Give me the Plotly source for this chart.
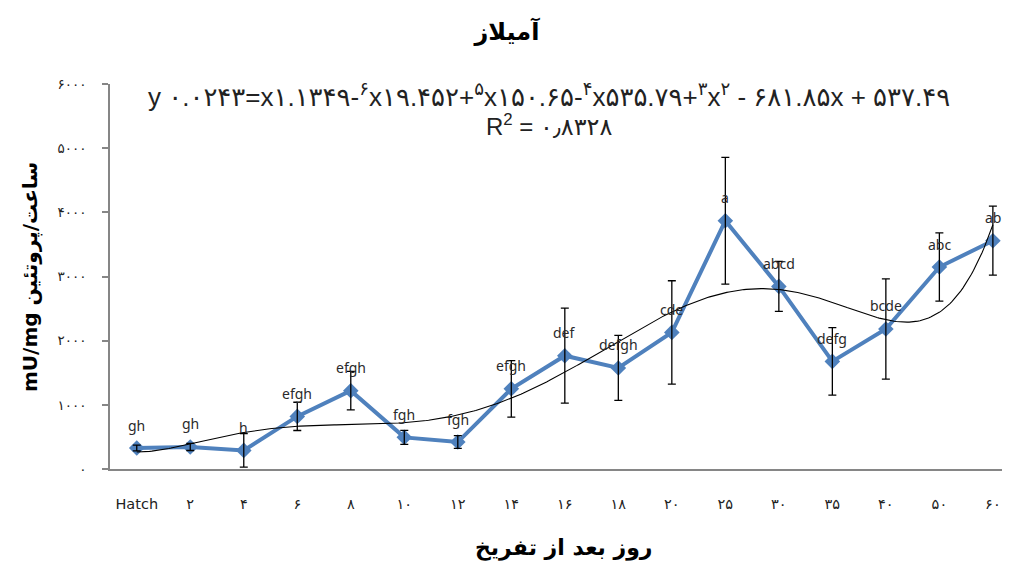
import numpy as np
import plotly.graph_objects as go

# ---- data ----
days = ["Hatch", "۲", "۴", "۶", "۸", "۱۰", "۱۲", "۱۴", "۱۶", "۱۸", "۲۰", "۲۵", "۳۰", "۳۵", "۴۰", "۵۰", "۶۰"]
amylase = [327, 343, 290, 820, 1220, 493, 420, 1250, 1766, 1575, 2129, 3869, 2846, 1677, 2182, 3148, 3558]
err = [45, 55, 260, 220, 300, 110, 100, 440, 740, 507, 805, 988, 390, 525, 780, 533, 538]
letters = ["gh", "gh", "h", "efgh", "efgh", "fgh", "fgh", "efgh", "def", "defgh", "cde", "a", "abcd", "defg", "bcde", "abc", "ab"]
y_tick_vals = [0, 1000, 2000, 3000, 4000, 5000, 6000]
y_tick_text = ["۰", "۱۰۰۰", "۲۰۰۰", "۳۰۰۰", "۴۰۰۰", "۵۰۰۰", "۶۰۰۰"]

title_text = "آمیلاز"
x_title = "روز بعد از تفریخ"
y_title = "mU/mg ساعت/پروتئین"
eq_text = ("y ۰.۰۲۴۳=x۱.۱۳۴۹-<sup>۶</sup>x۱۹.۴۵۲+<sup>۵</sup>x۱۵۰.۶۵-<sup>۴</sup>"
           "x۵۳۵.۷۹+<sup>۳</sup>x<sup>۲</sup> - ۶۸۱.۸۵x + ۵۳۷.۴۹")
r2_text = "R<sup>2</sup> = ۰٫۸۳۲۸"

# ---- positions ----
xpos = np.arange(len(days))

# 6th-order polynomial trendline fitted to the series (Excel x = 1..n)
coef = np.polyfit(xpos + 1, amylase, 6)
xs = np.linspace(0, len(days) - 1, 400)
ys = np.polyval(coef, xs + 1)

BLUE = "#4F81BD"
AXIS = "#868686"

# page body has an 8px margin: figure sized/offset to compensate
W, H = 1002, 556
L, T, B = 102, 76, 95
PH = H - T - B  # 385


def px_to_paper_y(sy):
    fy = sy - 8
    return (H - B - fy) / PH


def px_to_paper_x(sx):
    fx = sx - 8
    return (fx - L) / (W - L)


fig = go.Figure()
fig.add_trace(go.Scatter(
    x=xpos, y=amylase, mode="lines+markers",
    line=dict(color=BLUE, width=4),
    marker=dict(symbol="diamond", size=12, color=BLUE),
    showlegend=False, hoverinfo="skip"))
fig.add_trace(go.Scatter(
    x=xs, y=ys, mode="lines",
    line=dict(color="black", width=1.1),
    showlegend=False, hoverinfo="skip"))
fig.add_trace(go.Scatter(
    x=xpos, y=amylase, mode="markers",
    marker=dict(size=1, color="rgba(0,0,0,0)"),
    error_y=dict(type="data", array=err, visible=True, color="black", thickness=1.3, width=4),
    showlegend=False, hoverinfo="skip"))

for xi, yi, lab in zip(xpos, amylase, letters):
    fig.add_annotation(x=xi, y=yi, text=lab, showarrow=False, yshift=23,
                       xanchor="center", yanchor="middle",
                       font=dict(family="Noto Sans", size=14, color="#2a2a2a"))

fig.add_annotation(xref="paper", yref="paper", x=px_to_paper_x(549), y=px_to_paper_y(95),
                   xanchor="center", yanchor="middle", text=eq_text, showarrow=False,
                   font=dict(family="Liberation Sans, DejaVu Sans", size=26, color="#222222"))
fig.add_annotation(xref="paper", yref="paper", x=px_to_paper_x(549), y=px_to_paper_y(125),
                   xanchor="center", yanchor="middle", text=r2_text, showarrow=False,
                   font=dict(family="Liberation Sans, DejaVu Sans", size=24, color="#222222"))
fig.add_annotation(xref="paper", yref="paper", x=px_to_paper_x(30), y=px_to_paper_y(277),
                   xanchor="center", yanchor="middle", text=y_title, showarrow=False,
                   textangle=-90,
                   font=dict(family="DejaVu Sans", size=20, color="black", weight="bold"))
fig.add_annotation(xref="paper", yref="paper", x=px_to_paper_x(563), y=px_to_paper_y(548),
                   xanchor="center", yanchor="middle", text=x_title, showarrow=False,
                   font=dict(family="DejaVu Sans", size=22, color="black", weight="bold"))

fig.update_layout(
    width=W, height=H, autosize=False,
    margin=dict(l=L, r=0, t=T, b=B),
    paper_bgcolor="white", plot_bgcolor="white",
    title=dict(text=title_text, x=(507 - 8) / W, xanchor="center", xref="container",
               y=1 - (32 - 8) / H, yanchor="middle", yref="container",
               font=dict(family="DejaVu Sans", size=24, color="black", weight="bold")),
    xaxis=dict(range=[-0.5, 16.32], tickvals=xpos, ticktext=days, showgrid=False, zeroline=False,
               showline=True, linecolor=AXIS, linewidth=1.5, ticks="", ticklabelstandoff=21,
               tickfont=dict(family="Liberation Sans Narrow, DejaVu Sans", size=14.5, color="#222222")),
    yaxis=dict(range=[0, 6000], tickvals=y_tick_vals, ticktext=y_tick_text, showgrid=False,
               zeroline=False, showline=True, linecolor=AXIS, linewidth=1.5,
               ticks="outside", ticklen=6, tickcolor=AXIS, tickwidth=1.5, ticklabelstandoff=13,
               tickfont=dict(family="DejaVu Sans", size=13.5, color="#222222")),
)

fig.write_html("out.html")
